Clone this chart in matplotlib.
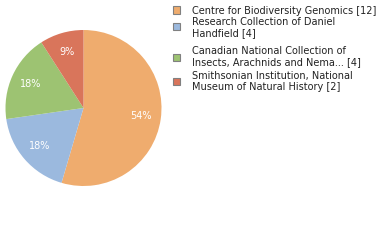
import matplotlib
matplotlib.use("Agg")
import matplotlib.pyplot as plt
from matplotlib.patches import Rectangle

# data
labels = ["Centre for Biodiversity Genomics [12]",
          "Research Collection of Daniel\nHandfield [4]",
          "Canadian National Collection of\nInsects, Arachnids and Nema... [4]",
          "Smithsonian Institution, National\nMuseum of Natural History [2]"]
counts = [12, 4, 4, 2]
colors = ["#efac6e", "#9bb9de", "#9dc372", "#d9755b"]

W, H = 380, 240
fig = plt.figure(figsize=(W / 100, H / 100), dpi=100)

# pie: centre (83.5,108) radius 78 px
cx, cy, r = 83.5, 108, 78
ax = fig.add_axes([(cx - r) / W, (H - cy - r) / H, 2 * r / W, 2 * r / H])
wedges, texts, autotexts = ax.pie(counts, colors=colors, startangle=90, counterclock=False,
                                  autopct=lambda p: "%d%%" % int(p), pctdistance=0.75,
                                  wedgeprops=dict(linewidth=0))
for t in autotexts:
    t.set_color("white")
    t.set_fontsize(7)
    t.set_fontweight("medium")
ax.set_xlim(-1, 1)
ax.set_ylim(-1, 1)
ax.set_aspect("equal")
ax.axis("off")

# legend drawn by hand
row_top = [8, 19, 48.5, 73.5]
sq_y = [10, 26.5, 57, 81]
for i, lab in enumerate(labels):
    fig.add_artist(Rectangle(((173) / W, 1 - (sq_y[i] + 3.5) / H), 7 / W, 7 / H,
                             facecolor=colors[i], edgecolor="#808080", linewidth=0.8,
                             transform=fig.transFigure))
    fig.text(192 / W, 1 - (row_top[i] - 2) / H, lab, fontsize=7, va="top", ha="left",
             color="#222222", linespacing=1.1)

fig.savefig("out.png", dpi=100)
